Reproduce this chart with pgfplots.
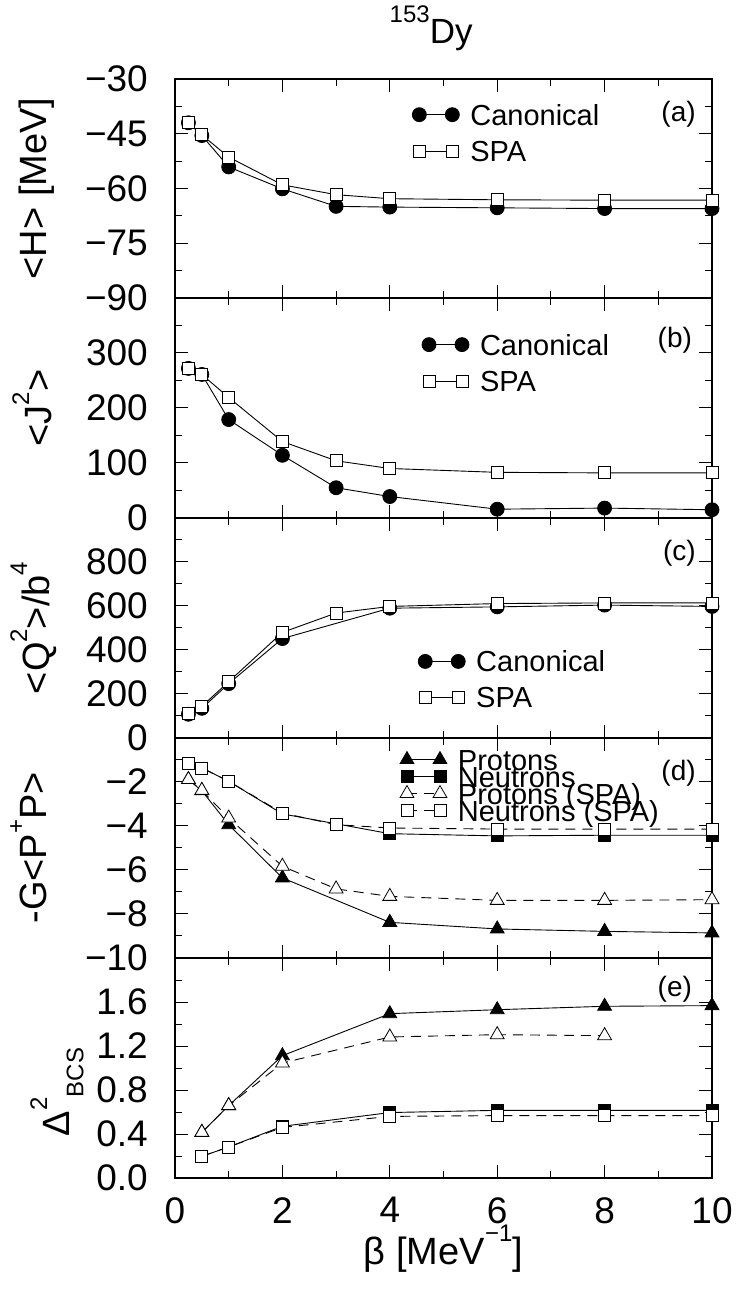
\documentclass[border=0pt]{standalone}
\usepackage{fontspec}
\setmainfont{Liberation Sans}
\usepackage{pgfplots}
\pgfplotsset{compat=1.18}
\newcommand{\sups}[1]{\raisebox{0.6em}{\fontsize{24}{24}\selectfont #1}}
\newcommand{\subs}[1]{\raisebox{-0.35em}{\fontsize{24}{24}\selectfont #1}}
\tikzset{plab/.style={anchor=east, inner sep=0pt, font=\fontsize{28}{28}\selectfont}}
\pgfplotsset{
  panel/.style={
    scale only axis, width=537pt, height=220pt, anchor=south west,
    xmin=0, xmax=10, xtick={0,2,4,6,8,10}, minor xtick={1,3,5,7,9},
    xticklabels={},
    tick align=inside, major tick length=13pt, minor tick length=7pt,
    every tick/.style={black, line width=1pt},
    axis line style={line width=1.6pt},
    yticklabel style={anchor=east, inner sep=0pt, xshift=-27pt, font=\fontsize{37}{44}\selectfont},
    xticklabel style={anchor=north, inner sep=0pt, yshift=-19pt, font=\fontsize{37}{44}\selectfont},
    label style={font=\fontsize{38}{45}\selectfont},
    clip=false,
    legend cell align=left,
    legend style={draw=none, fill=none, inner sep=0pt, outer sep=0pt,
      font=\fontsize{29}{29}\selectfont, anchor=north west,
      cells={anchor=west},
      nodes={inner sep=0pt, text height=21pt, text depth=0pt},
      /tikz/every odd column/.append style={column sep=11pt}},
    legend image code/.code={\draw[##1] plot coordinates {(0pt,0pt) (33pt,0pt)};},
  },
  can/.style={black, solid, line width=0.9pt, mark=*, mark size=7pt, mark options={solid, fill=black, line width=0.8pt}},
  spa/.style={black, solid, line width=0.9pt, mark=square*, mark size=6pt, mark options={solid, fill=white, line width=0.8pt}},
  pcan/.style={black, solid, line width=0.9pt, mark=triangle*, mark size=8pt, mark options={solid, fill=black, line width=0.8pt}},
  ncan/.style={black, solid, line width=0.9pt, mark=square*, mark size=6pt, mark options={solid, fill=black, line width=0.8pt}},
  pspa/.style={black, dash pattern=on 10pt off 7pt, line width=0.9pt, mark=triangle*, mark size=8pt, mark options={solid, fill=white, line width=0.8pt}},
  nspa/.style={black, dash pattern=on 10pt off 7pt, line width=0.9pt, mark=square*, mark size=6pt, mark options={solid, fill=white, line width=0.8pt}},
}
\begin{document}
\begin{tikzpicture}[font=\fontsize{32}{38}\selectfont]
\useasboundingbox (-175pt,-111pt) rectangle (566pt,1178pt);

% ---------- (a)
\begin{axis}[panel, at={(0pt,880pt)}, height=219pt,
  ymin=-90, ymax=-30, ytick={-90,-75,-60,-45,-30},
  yticklabels={−90,−75,−60,−45,−30}, minor ytick={-82.5,-67.5,-52.5,-37.5},
  ylabel={<H> [MeV]},
  ylabel style={at={([xshift=-128pt]rel axis cs:0,0.5)}, anchor=base},
  title={\sups{153}Dy},
  title style={at={([yshift=29pt]rel axis cs:0.477,1)}, anchor=base, inner sep=0pt, font=\fontsize{35}{40}\selectfont},
  legend style={at={([xshift=-7pt,yshift=10.5pt]rel axis cs:0.455,0.837)}, row sep=15.6pt}]
\addplot[can] coordinates {(0.25,-42) (0.5,-45.5) (1,-54.1) (2,-60.1) (3,-64.9) (4,-65.1) (6,-65.3) (8,-65.5) (10,-65.5)};
\addlegendentry{Canonical}
\addplot[spa] coordinates {(0.25,-41.9) (0.5,-45.3) (1,-51.4) (2,-59.0) (3,-61.7) (4,-62.8) (6,-63.1) (8,-63.2) (10,-63.2)};
\addlegendentry{SPA}
\node[plab] at (rel axis cs:0.97,0.837) {(a)};
\end{axis}

% ---------- (b)
\begin{axis}[panel, at={(0pt,660pt)},
  ymin=0, ymax=400, ytick={0,100,200,300,400},
  yticklabels={0,100,200,300,{}}, minor ytick={50,150,250,350},
  ylabel={<J\sups{2}>},
  ylabel style={at={([xshift=-123pt]rel axis cs:0,0.5)}, anchor=base},
  legend style={at={([xshift=-7pt,yshift=10.5pt]rel axis cs:0.473,0.788)}, row sep=15.7pt}]
\addplot[can] coordinates {(0.25,272) (0.5,261) (1,179) (2,114) (3,55) (4,39) (6,16) (8,18) (10,15)};
\addlegendentry{Canonical}
\addplot[spa] coordinates {(0.25,272) (0.5,261) (1,219) (2,139) (3,104) (4,90) (6,83) (8,82) (10,82)};
\addlegendentry{SPA}
\node[plab] at (rel axis cs:0.963,0.81) {(b)};
\end{axis}

% ---------- (c)
\begin{axis}[panel, at={(0pt,440pt)},
  ymin=0, ymax=1000, ytick={0,200,400,600,800,1000},
  yticklabels={0,200,400,600,800,{}}, minor ytick={100,300,500,700,900},
  ylabel={<Q\sups{2}>/b\sups{4}},
  ylabel style={at={([xshift=-125pt]rel axis cs:0,0.5)}, anchor=base},
  legend style={at={([xshift=-7pt,yshift=10.5pt]rel axis cs:0.466,0.348)}, row sep=14.6pt}]
\addplot[can] coordinates {(0.25,108) (0.5,135) (1,247) (2,452) (4,590) (6,596) (8,604) (10,598)};
\addlegendentry{Canonical}
\addplot[spa] coordinates {(0.25,111) (0.5,144) (1,256) (2,480) (3,568) (4,598) (6,611) (8,614) (10,614)};
\addlegendentry{SPA}
\node[plab] at (rel axis cs:0.97,0.84) {(c)};
\end{axis}

% ---------- (d)
\begin{axis}[panel, at={(0pt,220pt)},
  ymin=-10, ymax=0, ytick={-10,-8,-6,-4,-2,0},
  yticklabels={−10,−8,−6,−4,−2,{}}, minor ytick={-9,-7,-5,-3,-1},
  ylabel={-G<P\sups{+}P>},
  ylabel style={at={([xshift=-128pt]rel axis cs:0,0.5)}, anchor=base},
  legend style={at={([xshift=-8pt,yshift=10.5pt]rel axis cs:0.434,0.902)}, row sep=-4pt}]
\addplot[pcan] coordinates {(0.25,-1.89) (0.5,-2.4) (1,-3.94) (2,-6.36) (4,-8.38) (6,-8.68) (8,-8.79) (10,-8.86)};
\addlegendentry{Protons}
\addplot[ncan] coordinates {(0.25,-1.14) (0.5,-1.36) (1,-1.97) (2,-3.45) (4,-4.35) (6,-4.45) (8,-4.42) (10,-4.42)};
\addlegendentry{Neutrons}
\addplot[pspa] coordinates {(0.25,-1.89) (0.5,-2.38) (1,-3.64) (2,-5.83) (3,-6.86) (4,-7.2) (6,-7.38) (8,-7.38) (10,-7.35)};
\addlegendentry{Protons (SPA)}
\addplot[nspa] coordinates {(0.25,-1.14) (0.5,-1.36) (1,-1.97) (2,-3.41) (3,-3.94) (4,-4.09) (6,-4.14) (8,-4.14) (10,-4.14)};
\addlegendentry{Neutrons (SPA)}
\node[plab] at (rel axis cs:0.97,0.84) {(d)};
\end{axis}

% ---------- (e)
\begin{axis}[panel, at={(0pt,0pt)},
  ymin=0, ymax=2, ytick={0,0.4,0.8,1.2,1.6,2.0},
  yticklabels={0.0,0.4,0.8,1.2,1.6,{}}, minor ytick={0.2,0.6,1.0,1.4,1.8},
  xticklabels={0,2,4,6,8,10},
  ylabel={Δ\sups{2}\subs{BCS}},
  ylabel style={at={([xshift=-105pt,yshift=-24pt]rel axis cs:0,0.5)}, anchor=base},
  xlabel={β [MeV\sups{−1}]},
  xlabel style={at={([yshift=-86pt]rel axis cs:0.5,0)}, anchor=base}]
\addplot[pcan] coordinates {(0.5,0.415) (1,0.658) (2,1.112) (4,1.494) (6,1.530) (8,1.561) (10,1.567)};
\addplot[ncan] coordinates {(0.5,0.197) (1,0.282) (2,0.47) (4,0.595) (6,0.615) (8,0.615) (10,0.615)};
\addplot[pspa] coordinates {(0.5,0.415) (1,0.658) (2,1.045) (4,1.282) (6,1.303) (8,1.294)};
\addplot[nspa] coordinates {(0.5,0.197) (1,0.282) (2,0.46) (4,0.56) (6,0.567) (8,0.567) (10,0.567)};
\node[plab] at (rel axis cs:0.963,0.856) {(e)};
\end{axis}
\end{tikzpicture}
\end{document}
